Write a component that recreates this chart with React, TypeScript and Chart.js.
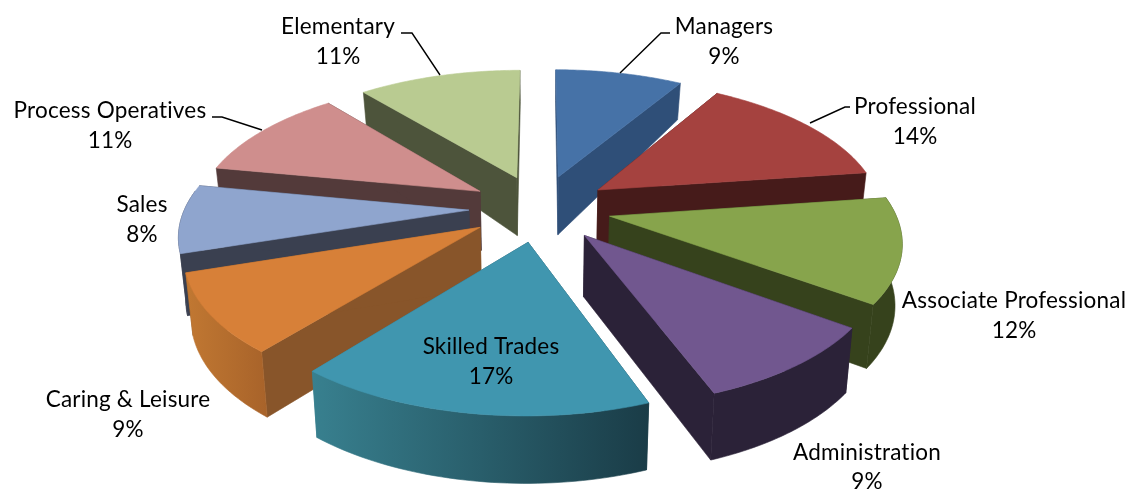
import React, { useEffect, useRef } from "react";
import { Chart, registerables } from "chart.js";

Chart.register(...registerables);

const categories = ["Managers", "Professional", "Associate Professional", "Administration", "Skilled Trades", "Caring & Leisure", "Sales", "Process Operatives", "Elementary"];
const shares = [8.6, 14.2, 12.2, 9.3, 16.55, 9.15, 8, 11, 11];
const topColors = ["#4672A7", "#A5423F", "#87A44C", "#71578F", "#4096AF", "#D78038", "#8FA5CE", "#CF8E8D", "#B9CB91"];
const wallColors = ["#2F4F78", "#461B1A", "#36421C", "#2B2238", "#1F4A57", "#88552A", "#3A4050", "#533A3A", "#4D543B"];
const rimLeftColors = ["#2F4F78", "#461B1A", "#36421C", "#2B2238", "#38808F", "#C17832", "#3A4050", "#533A3A", "#4D543B"];
const rimRightColors = ["#2F4F78", "#461B1A", "#36421C", "#2B2238", "#1A3C47", "#A8632A", "#3A4050", "#533A3A", "#4D543B"];

const VIEW = { cx: 540, cy: 208, k: 284, t: 133.5, p: 0.16, explode: 0.25 };
const FONT = '22.5px Lato, "Open Sans", sans-serif';
const LABEL_POS: [number, number, number][] = [
  [724, 27, 57], [915, 107, 137], [1014, 301, 331], [867, 453, 482], [491, 347, 377], [128, 400, 430], [142, 205, 235], [110, 111, 141], [338, 27, 57],
];
const LEADERS: ([number, number][] | null)[] = [
  [[620, 73], [661, 33], [670, 33]],
  [[810, 123], [845, 107], [850, 107]],
  null, null, null, null, null,
  [[262, 130], [222, 117], [212, 117]],
  [[440, 75], [412, 33], [401, 33]],
];

type P = [number, number];

function depth(z: number) {
  return z < 0 ? 60 - 6 * z : 60 - 6 * z - 14 * z * z;
}

function project(phi: number, r: number, mid: number, lower: boolean): P {
  const X = r * Math.sin(phi) + VIEW.explode * Math.sin(mid);
  const Z = r * Math.cos(phi) + VIEW.explode * Math.cos(mid);
  const f = 1 / (1 + VIEW.p * Z);
  let x = VIEW.cx + VIEW.k * X * f;
  let y = VIEW.cy - VIEW.t * Z * f;
  if (lower) {
    x -= (x - VIEW.cx) * 0.02;
    y += depth(Z);
  }
  return [x, y];
}

function fillPoly(ctx: CanvasRenderingContext2D, pts: P[], fill: string | CanvasGradient) {
  ctx.beginPath();
  pts.forEach((q, i) => (i ? ctx.lineTo(q[0], q[1]) : ctx.moveTo(q[0], q[1])));
  ctx.closePath();
  ctx.fillStyle = fill;
  ctx.strokeStyle = fill;
  ctx.lineWidth = 0.6;
  ctx.fill();
  ctx.stroke();
}

const pie3d = {
  id: "pie3d",
  beforeDatasetDraw(chart: any) {
    const ctx: CanvasRenderingContext2D = chart.ctx;
    const arcs = chart.getDatasetMeta(0).data;
    const slices = arcs.map((arc: any, i: number) => {
      const a0 = arc.startAngle + Math.PI / 2;
      const a1 = arc.endAngle + Math.PI / 2;
      return { i, a0, a1, mid: (a0 + a1) / 2, color: arc.options.backgroundColor };
    });
    slices.sort((u: any, v: any) => Math.cos(v.mid) - Math.cos(u.mid));
    ctx.save();
    for (const s of slices) {
      const steps = 48;
      const rimTop: P[] = [];
      const rimLow: P[] = [];
      const faceTop: P[] = [];
      const faceLow: P[] = [];
      for (let n = 0; n <= steps; n++) {
        const a = s.a0 + ((s.a1 - s.a0) * n) / steps;
        const up = project(a, 1, s.mid, false);
        const low = project(a, 1, s.mid, true);
        rimTop.push(up);
        rimLow.push(low);
        if (Math.cos(a) < 0.15) {
          faceTop.push(up);
          faceLow.push(low);
        }
      }
      const apexTop = project(0, 0, s.mid, false);
      const apexLow = project(0, 0, s.mid, true);
      const xs = rimTop.concat(rimLow).map((q) => q[0]);
      const grad = ctx.createLinearGradient(Math.min(...xs), 0, Math.max(...xs), 0);
      grad.addColorStop(0, rimLeftColors[s.i]);
      grad.addColorStop(1, rimRightColors[s.i]);
      const wall = s.i === 4 ? grad : wallColors[s.i];
      fillPoly(ctx, [apexTop, rimTop[0], rimLow[0], apexLow], wall);
      fillPoly(ctx, [apexTop, rimTop[steps], rimLow[steps], apexLow], wall);
      if (faceTop.length > 1) fillPoly(ctx, [...faceTop, ...faceLow.slice().reverse()], grad);
      fillPoly(ctx, [apexTop, ...rimTop], s.color);
    }
    ctx.restore();
    return false;
  },
  afterDatasetsDraw(chart: any) {
    const ctx: CanvasRenderingContext2D = chart.ctx;
    const values: number[] = chart.data.datasets[0].data;
    const total = values.reduce((a, b) => a + b, 0);
    ctx.save();
    ctx.strokeStyle = "#000";
    ctx.lineWidth = 1.4;
    LEADERS.forEach((line) => {
      if (!line) return;
      ctx.beginPath();
      line.forEach((q, i) => (i ? ctx.lineTo(q[0], q[1]) : ctx.moveTo(q[0], q[1])));
      ctx.stroke();
    });
    ctx.font = FONT;
    (ctx as any).letterSpacing = "0.2px";
    ctx.fillStyle = "#000";
    ctx.textAlign = "center";
    ctx.textBaseline = "middle";
    chart.data.labels.forEach((name: string, i: number) => {
      const [x, y1, y2] = LABEL_POS[i];
      ctx.fillText(name, x, y1);
      ctx.fillText(`${Math.round((values[i] / total) * 100)}%`, x, y2);
    });
    ctx.restore();
  },
};

export default function App() {
  const ref = useRef<HTMLCanvasElement>(null);
  useEffect(() => {
    const chart = new Chart(ref.current as HTMLCanvasElement, {
      type: "pie",
      data: { labels: categories, datasets: [{ data: shares, backgroundColor: topColors, borderWidth: 0 }] },
      options: {
        animation: false,
        responsive: false,
        plugins: { legend: { display: false }, tooltip: { enabled: false } },
      },
      plugins: [pie3d as any],
    });
    return () => chart.destroy();
  }, []);
  return (
    <div style={{ position: "absolute", left: 0, top: 0, width: 1130, height: 490, background: "#fff", overflow: "hidden" }}>
      <canvas ref={ref} width={1130} height={490} style={{ display: "block" }} />
    </div>
  );
}
